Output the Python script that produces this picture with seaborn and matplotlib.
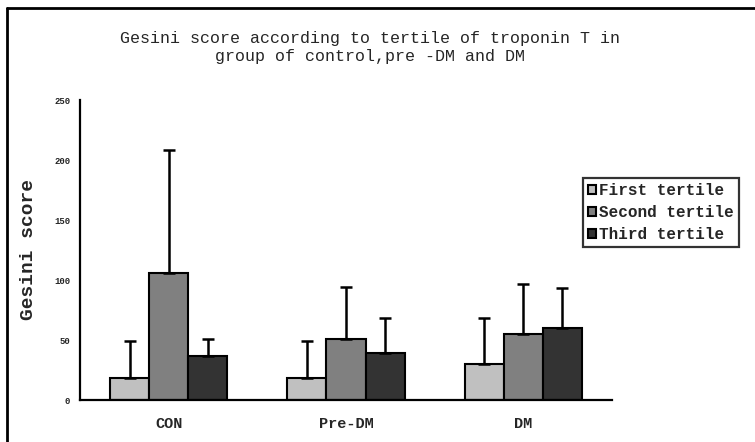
import matplotlib
matplotlib.use("Agg")
import matplotlib.pyplot as plt
from matplotlib.lines import Line2D
import seaborn as sns
import pandas as pd

# Groups and tertiles
groups = ["CON", "Pre-DM", "DM"]
tertiles = ["First tertile", "Second tertile", "Third tertile"]

# Mean Gesini score per tertile, listed group by group
first_mean = [18, 18, 30]
second_mean = [106, 51, 55]
third_mean = [37, 39, 60]

# Standard deviations (drawn upward only)
first_sd = [31, 31, 38]
second_sd = [102, 43, 42]
third_sd = [14, 29, 33]

yticks = [0, 50, 100, 150, 200, 250]
colors = ["#c0c0c0", "#808080", "#333333"]

rows = []
for t, means, sds in zip(tertiles, [first_mean, second_mean, third_mean],
                         [first_sd, second_sd, third_sd]):
    for g, m, s in zip(groups, means, sds):
        rows.append({"group": g, "tertile": t, "score": m, "sd": s})
df = pd.DataFrame(rows)

sns.set_style("white")
plt.rcParams["font.family"] = ["Liberation Mono", "DejaVu Sans Mono"]

fig = plt.figure(figsize=(7.55, 4.42), dpi=100)
ax = fig.add_axes([80 / 755, 42 / 442, 532 / 755, 300 / 442])

sns.barplot(data=df, x="group", y="score", hue="tertile", order=groups,
            hue_order=tertiles, palette=colors, width=0.66, errorbar=None,
            edgecolor="black", linewidth=1.5, saturation=1, ax=ax)

# Upward error bars placed on each drawn bar
for container, t in zip(ax.containers, tertiles):
    sub = df[df["tertile"] == t].set_index("group").loc[groups]
    for bar, m, s in zip(container, sub["score"], sub["sd"]):
        xc = bar.get_x() + bar.get_width() / 2
        ax.errorbar(xc, m, yerr=[[0], [s]], fmt="none", ecolor="black",
                    elinewidth=1.8, capsize=4.5, capthick=1.8, zorder=1)

ax.set_xlim(-0.5, 2.5)
ax.set_ylim(0, 250)
ax.set_yticks(yticks)
ax.set_yticklabels([str(v) for v in yticks], fontsize=6.5, fontweight="bold")
ax.tick_params(axis="y", direction="in", length=3, width=1.5, pad=7)
ax.tick_params(axis="x", length=0, pad=12)
for lbl in ax.get_xticklabels():
    lbl.set_fontsize(11)
    lbl.set_fontweight("bold")
ax.set_xlabel("")
ax.set_ylabel("Gesini score", fontsize=14, fontweight="bold", labelpad=12)

for side in ["top", "right"]:
    ax.spines[side].set_visible(False)
for side in ["left", "bottom"]:
    ax.spines[side].set_linewidth(1.6)
    ax.spines[side].set_color("black")

fig.text(0.49, 1 - 47 / 442,
         "Gesini score according to tertile of troponin T in\n"
         "group of control,pre -DM and DM",
         ha="center", va="center", fontsize=12, linespacing=1.25)

leg = ax.legend(loc="upper left", bbox_to_anchor=(583 / 755, 264 / 442),
                bbox_transform=fig.transFigure, frameon=True, fancybox=False,
                prop={"size": 11.5, "weight": "bold"}, handlelength=0.5,
                handleheight=0.5, handletextpad=0.2, labelspacing=0.45,
                borderpad=0.3, borderaxespad=0)
leg.get_frame().set_edgecolor("black")
leg.get_frame().set_linewidth(1.6)

# Outer frame along the top and left edges
fig.add_artist(Line2D([6.5 / 755, 1], [1 - 8 / 442, 1 - 8 / 442],
                      transform=fig.transFigure, color="black", lw=2))
fig.add_artist(Line2D([6.5 / 755, 6.5 / 755], [0, 1 - 8 / 442],
                      transform=fig.transFigure, color="black", lw=2))

fig.savefig("out.png", dpi=100)
